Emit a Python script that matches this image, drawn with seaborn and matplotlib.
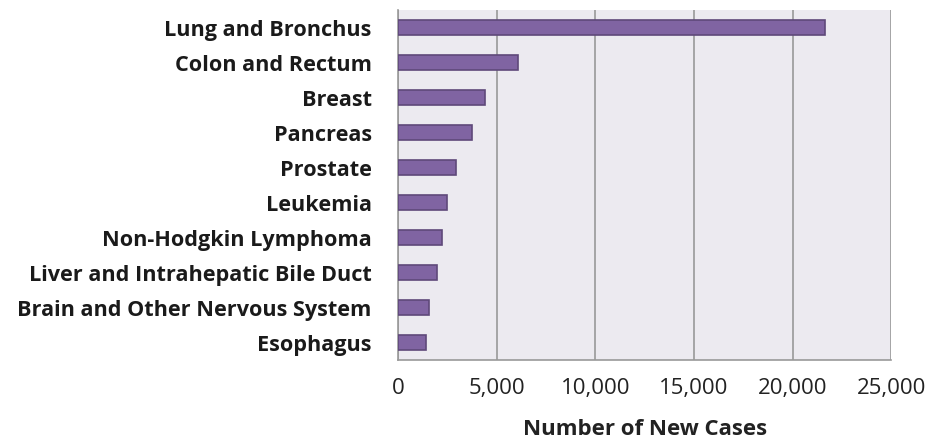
import numpy as np
import pandas as pd
import matplotlib.pyplot as plt
import seaborn as sns
from matplotlib.ticker import FuncFormatter, FixedLocator

sites = ['Lung and Bronchus', 'Colon and Rectum', 'Breast', 'Pancreas', 'Prostate',
         'Leukemia', 'Non-Hodgkin Lymphoma', 'Liver and Intrahepatic Bile Duct',
         'Brain and Other Nervous System', 'Esophagus']
new_cases = [21650, 6100, 4400, 3740, 2950, 2500, 2220, 2000, 1580, 1440]

df = pd.DataFrame({'site': sites, 'cases': new_cases})

sns.set_style('white')
plt.rcParams['font.family'] = ['Open Sans', 'DejaVu Sans']

fig = plt.figure(figsize=(9.28, 4.38), dpi=100)
ax = fig.add_axes([0.4289, 0.178, 0.5315, 0.799])
ax.set_facecolor('#ECEAF0')

sns.barplot(data=df, x='cases', y='site', orient='h', color='#8064A2',
            saturation=1, width=0.44, edgecolor='#5F497A', linewidth=1.2, ax=ax, zorder=3)

ax.set_xlim(0, 25000)
ax.set_xticks(np.arange(0, 25001, 5000))
ax.xaxis.set_major_formatter(FuncFormatter(lambda v, p: f'{int(v):,}'))
ax.grid(axis='x', color='#999999', linewidth=1.2, zorder=0)
ax.set_axisbelow(True)

# category boundary ticks on the y axis, Excel style
ax.yaxis.set_minor_locator(FixedLocator(np.arange(-0.5, len(sites), 1)))
ax.tick_params(axis='y', which='major', length=0, pad=19, labelsize=15.6, labelcolor='#1a1a1a')
ax.tick_params(axis='y', which='minor', length=6, width=1.2, color='#999999', direction='out')
ax.tick_params(axis='x', which='major', length=6, width=1.2, color='#999999', direction='out',
               labelsize=16, pad=7, labelcolor='#222222')
for lab in ax.get_yticklabels():
    lab.set_fontweight('bold')

for side in ['top', 'right']:
    ax.spines[side].set_visible(False)
ax.spines['left'].set_color('#999999')
ax.spines['bottom'].set_color('#999999')
ax.spines['left'].set_linewidth(1.2)
ax.spines['bottom'].set_linewidth(1.2)

ax.set_ylabel('')
ax.set_xlabel('Number of New Cases', fontsize=16, fontweight='bold', labelpad=14, color='#222222')

fig.savefig('out.png', dpi=100)
